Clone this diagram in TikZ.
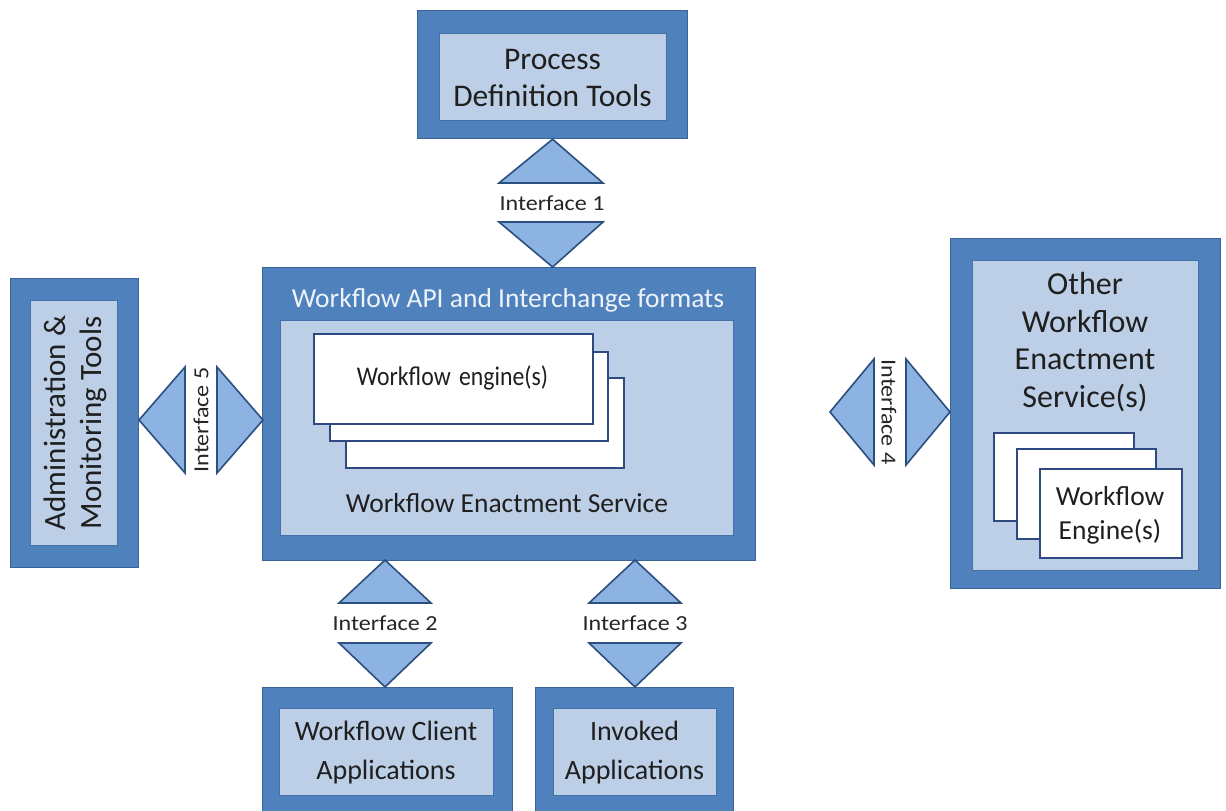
\documentclass[tikz,border=0pt]{standalone}
\usepackage{fontspec}
\setmainfont{Carlito}
\newfontfamily\labelfont{Carlito}[FakeStretch=1.12]
\newfontfamily\narrowfont{Carlito}[FakeStretch=0.88]
\usetikzlibrary{calc}

\definecolor{outerblue}{HTML}{4F81BD}
\definecolor{outerline}{HTML}{3A6399}
\definecolor{innerblue}{HTML}{BCCFE6}
\definecolor{innerline}{HTML}{4472A8}
\definecolor{trifill}{HTML}{8DB3E2}
\definecolor{triline}{HTML}{2B4F7E}
\definecolor{engline}{HTML}{2E4A80}
\definecolor{titletext}{HTML}{EEF3FA}

\tikzset{
  outerbox/.style={draw=outerline, fill=outerblue, line width=1.2pt, inner sep=0pt},
  innerbox/.style={draw=innerline, fill=innerblue, line width=1.2pt, inner sep=0pt},
  enginebox/.style={draw=engline, fill=white, line width=1.6pt, inner sep=0pt},
  iface/.style={draw=triline, fill=trifill, line width=1.6pt, line join=miter},
  boxtext/.style={font=\fontsize{28}{37}\selectfont, text=black!88, align=center},
  iflabel/.style={font=\labelfont\fontsize{21.5}{24}\selectfont, text=black!85},
}

% rectangle node from its corner coordinates, in pixels with y pointing down
\newcommand{\rbox}[4]{%
  % #1 style, #2 name, #3 top-left, #4 bottom-right
  \path let \p1=#3, \p2=#4 in
    node[#1, minimum width={\x2-\x1}, minimum height={\y1-\y2}, anchor=north west] (#2) at (\p1) {};}

\begin{document}
\begin{tikzpicture}[x=1pt, y=-1pt]
\useasboundingbox (0,0) rectangle (1226,811);
\clip (0,0) rectangle (1226,811);
\fill[white] (0,0) rectangle (1226,811);

% ---- boxes ----
\rbox{outerbox}{pdtO}{(417,10)}{(687,138)}
\rbox{innerbox}{pdt}{(439,33)}{(666,120)}

\rbox{outerbox}{wfaO}{(262,267)}{(755,560)}
\rbox{innerbox}{wes}{(280,320)}{(733,535)}

\rbox{outerbox}{admO}{(10,278)}{(138,567)}
\rbox{innerbox}{adm}{(30,300)}{(117,545)}

\rbox{outerbox}{othO}{(950,238)}{(1220,588)}
\rbox{innerbox}{oth}{(972,260)}{(1198,570)}

\rbox{outerbox}{wcaO}{(262,687)}{(512,850)}
\rbox{innerbox}{wca}{(279,708)}{(493,795)}

\rbox{outerbox}{invO}{(535,687)}{(733,850)}
\rbox{innerbox}{inv}{(553,708)}{(716,795)}

% ---- stacked engines ----
\rbox{enginebox}{engC}{(345,377)}{(623,467)}
\rbox{enginebox}{engB}{(329,351)}{(607,440)}
\rbox{enginebox}{engA}{(313,333)}{(592,423)}

\rbox{enginebox}{oengC}{(993,432)}{(1133,520)}
\rbox{enginebox}{oengB}{(1016,448)}{(1155,538)}
\rbox{enginebox}{oengA}{(1039,468)}{(1181,557)}

% ---- texts ----
\node[boxtext, font=\fontsize{31.5}{37}\selectfont] (pdtT) at (552.5,78) {Process\\Definition Tools};
\node[boxtext, text=titletext, font=\fontsize{27.5}{37}\selectfont] (wfaT) at (508,300) {Workflow API and Interchange formats};
\node[boxtext, font=\narrowfont\fontsize{27}{30}\selectfont] (engT) at (452.5,378) {Workflow\hspace{3pt} engine(s)};
\node[boxtext, font=\fontsize{27.5}{37}\selectfont] (wesT) at (507,503) {Workflow Enactment Service};
\node[boxtext, rotate=90, font=\fontsize{31}{36}\selectfont] (admT) at (75,423) {Administration \&\\Monitoring Tools};
\node[boxtext, font=\fontsize{32}{37.7}\selectfont] (othT) at (1085,342) {Other\\Workflow\\Enactment\\Service(s)};
\node[boxtext, font=\fontsize{27.5}{34}\selectfont] (oengT) at (1110,515) {Workflow\\Engine(s)};
\node[boxtext, font=\fontsize{28}{39}\selectfont] (wcaT) at (386,753) {Workflow Client\\Applications};
\node[boxtext, font=\fontsize{28}{39}\selectfont] (invT) at (634.5,753) {Invoked\\Applications};

% ---- interfaces ----
% Interface 1
\draw[iface] (pdtO.south) -- (603,183) -- (499,183) -- cycle;
\draw[iface] (499,222) -- (603,222) -- (pdtO.south |- wfaO.north) -- cycle;
\node[iflabel] (if1) at (552,203) {Interface 1};

% Interface 2
\draw[iface] (385,560) -- (431,603) -- (339,603) -- cycle;
\draw[iface] (339,643) -- (431,643) -- (385,687) -- cycle;
\node[iflabel] (if2) at (385,623) {Interface 2};

% Interface 3
\draw[iface] (635,560) -- (681,603) -- (589,603) -- cycle;
\draw[iface] (589,643) -- (681,643) -- (635,687) -- cycle;
\node[iflabel] (if3) at (635,623) {Interface 3};

% Interface 5
\draw[iface] (139,420) -- (185,367) -- (185,473) -- cycle;
\draw[iface] (217,367) -- (217,473) -- (263,420) -- cycle;
\node[iflabel, rotate=90] (if5) at (201,420) {Interface 5};

% Interface 4
\draw[iface] (830,412) -- (874,359) -- (874,465) -- cycle;
\draw[iface] (906,359) -- (906,465) -- (950,412) -- cycle;
\node[iflabel, rotate=-90] (if4) at (889,412) {Interface 4};
\end{tikzpicture}
\end{document}
